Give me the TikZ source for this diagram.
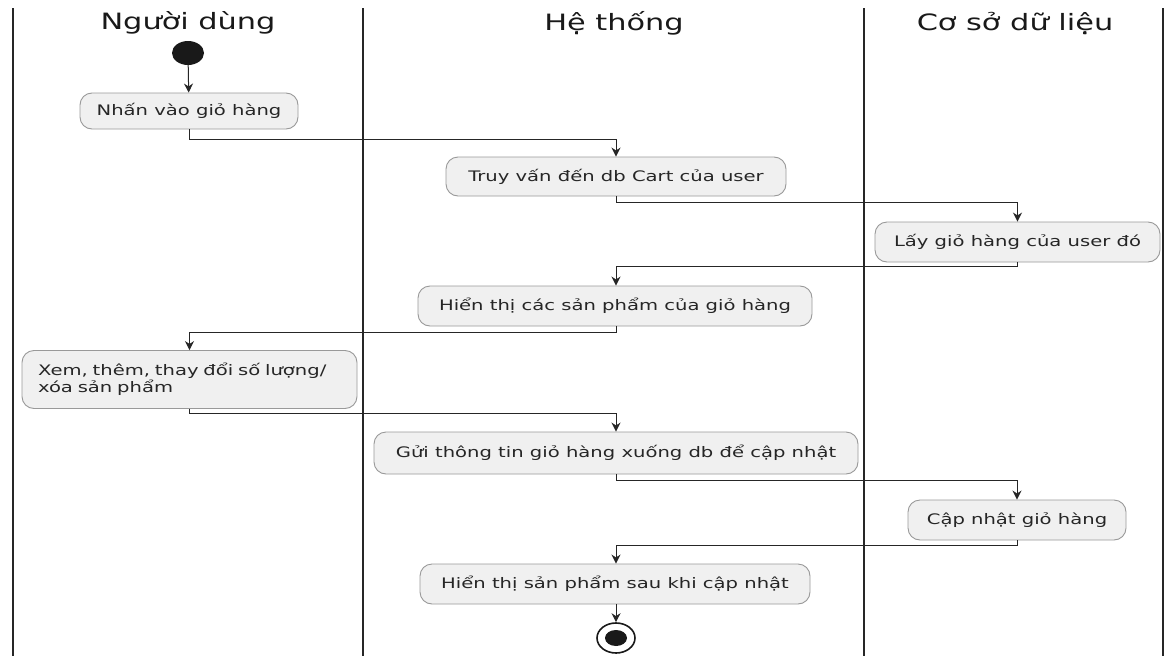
\documentclass[tikz,border=0pt]{standalone}
\usepackage{fontspec}
\setmainfont{DejaVu Sans}[FakeStretch=1.35]
\usetikzlibrary{arrows.meta,shapes.geometric}
\begin{document}
\begin{tikzpicture}[x=1pt,y=-1pt,
  lane/.style={draw=black!85, line width=1.8pt},
  lanetitle/.style={font=\fontsize{22.5}{26}\selectfont, text=black!90},
  act/.style={draw=black!40, fill=black!6, rounded corners=12pt, line width=0.9pt,
              font=\fontsize{14.5}{17.5}\selectfont, text=black!85, inner sep=0pt},
  flow/.style={draw=black!85, line width=1pt, -{Stealth[length=9pt,width=9pt]}}]
\useasboundingbox (0,0) rectangle (1168,656);
\fill[white] (0,0) rectangle (1168,656);

% swimlane separators
\draw[lane] (13,8) -- (13,656);
\draw[lane] (363,8) -- (363,656);
\draw[lane] (864,8) -- (864,656);
\draw[lane] (1163,8) -- (1163,656);

% lane headers
\node[lanetitle] (t1) at (188,23) {Người dùng};
\node[lanetitle] (t2) at (614,23) {Hệ thống};
\node[lanetitle] (t3) at (1015,23) {Cơ sở dữ liệu};

% start
\node[ellipse, fill=black!90, minimum width=32pt, minimum height=24pt, inner sep=0pt] (start) at (188,53) {};

% activities
\node[act, minimum width=218pt, minimum height=36pt] (a1) at (189,111) {Nhấn vào giỏ hàng};
\node[act, minimum width=340pt, minimum height=39pt] (a2) at (616,176.5) {Truy vấn đến db Cart của user};
\node[act, minimum width=285pt, minimum height=40pt] (a3) at (1017.5,242) {Lấy giỏ hàng của user đó};
\node[act, minimum width=394pt, minimum height=40pt] (a4) at (615,306) {Hiển thị các sản phẩm của giỏ hàng};
\node[act, minimum height=58pt, inner xsep=16pt, text width=303pt, align=left] (a5) at (189.5,379.5) {Xem, thêm, thay đổi số lượng/\\xóa sản phẩm};
\node[act, minimum width=484pt, minimum height=42pt] (a6) at (616,453) {Gửi thông tin giỏ hàng xuống db để cập nhật};
\node[act, minimum width=218pt, minimum height=40pt] (a7) at (1017,520) {Cập nhật giỏ hàng};
\node[act, minimum width=390pt, minimum height=40pt] (a8) at (615,584) {Hiển thị sản phẩm sau khi cập nhật};

% end
\node[ellipse, draw=black!90, line width=1.6pt, fill=white, minimum width=38pt, minimum height=30pt, inner sep=0pt] (stop) at (616,638) {};
\node[ellipse, fill=black!90, minimum width=22pt, minimum height=16pt, inner sep=0pt] (stopdot) at (616,638) {};

% control flow
\draw[flow] (start) -- (a1);
\draw[flow] (a1.south) -- ++(0,10) -| (a2.north);
\draw[flow] (a2.south) -- ++(0,6) -| (a3.north);
\draw[flow] (a3.south) -- ++(0,4) -| ([xshift=1pt]a4.north);
\draw[flow] ([xshift=1pt]a4.south) -- ++(0,6) -| (a5.north);
\draw[flow] (a5.south) -- ++(0,5) -| (a6.north);
\draw[flow] (a6.south) -- ++(0,6) -| (a7.north);
\draw[flow] (a7.south) -- ++(0,5) -| ([xshift=1pt]a8.north);
\draw[flow] ([xshift=1pt]a8.south) -- (stop);
\end{tikzpicture}
\end{document}
